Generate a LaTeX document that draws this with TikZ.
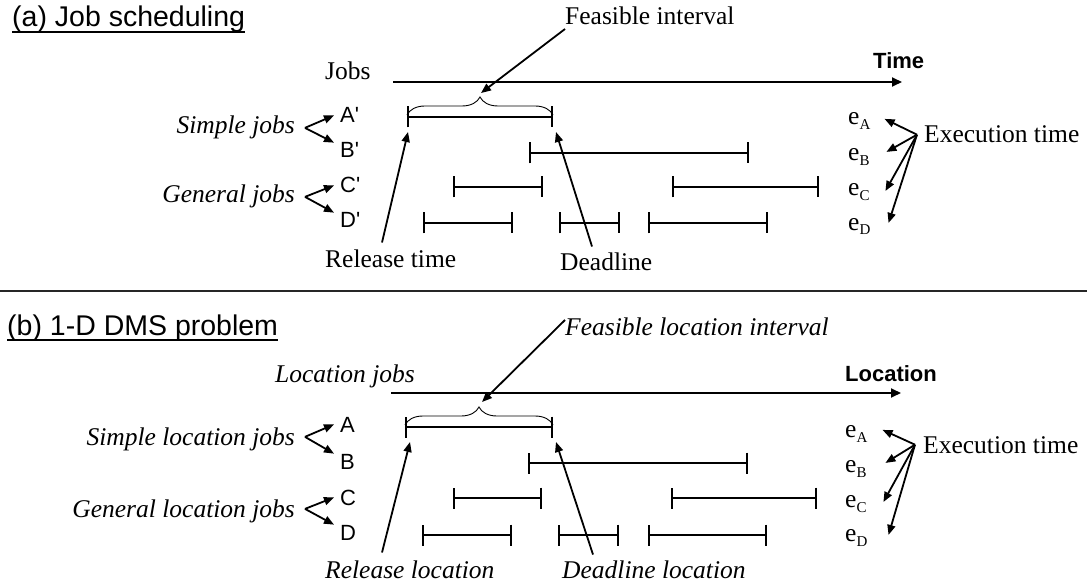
\documentclass[tikz,border=0pt]{standalone}
\usepackage{fontspec}
\setmainfont{Liberation Serif}
\setsansfont{Liberation Sans}
\newfontfamily\jobfont{Liberation Sans}[Ligatures=TeXOff]
\usetikzlibrary{arrows.meta,decorations.pathreplacing}

\tikzset{
  txt/.style={inner sep=0pt, font=\fontsize{25.5}{30}\selectfont},
  itxt/.style={inner sep=0pt, font=\fontsize{25.5}{30}\selectfont\itshape},
  ttl/.style={inner sep=0pt, font=\fontsize{28.5}{34}\selectfont\sffamily},
  axlab/.style={inner sep=0pt, font=\fontsize{22}{26}\selectfont\sffamily\bfseries},
  job/.style={inner sep=0pt, font=\fontsize{22}{26}\selectfont\jobfont},
  elab/.style={inner sep=0pt, font=\fontsize{25.5}{30}\selectfont},
  arr/.style={line width=1.8pt, -{Triangle[length=10pt,width=8pt]}},
  axisline/.style={line width=1.8pt, -{Triangle[length=10pt,width=9pt]}},
  interval/.style={line width=1.8pt, {Bar[width=21pt]}-{Bar[width=21pt]}},
  brc/.style={line width=0.9pt, decorate, decoration={brace, amplitude=18pt}},
  uline/.style={line width=2pt},
}
\newcommand{\esub}[2]{e\raisebox{-5pt}{\fontsize{15}{15}\selectfont #2}}

\begin{document}
\begin{tikzpicture}[x=1pt,y=-1pt]
\useasboundingbox (0,0) rectangle (1087,588);

% ---------------- (a) Job scheduling ----------------
\node[ttl, anchor=base west] (ta) at (12,27) {(a) Job scheduling};
\draw[uline] ([yshift=-5pt]ta.base west) -- ([yshift=-5pt]ta.base east);

\node[txt, anchor=base west] (fia) at (565,25) {Feasible interval};
\node[txt, anchor=base west] (jobsa) at (325,80) {Jobs};
\node[axlab, anchor=base west] (timea) at (873,69) {Time};
\coordinate (axa0) at (393,82);
\coordinate (axa1) at (902,82);
\draw[axisline] (axa0) -- (axa1);

\node[job, anchor=base west] (Apa) at (340,123) {A'};
\node[job, anchor=base west] (Bpa) at (340,158) {B'};
\node[job, anchor=base west] (Cpa) at (340,193) {C'};
\node[job, anchor=base west] (Dpa) at (340,228) {D'};

\node[itxt, anchor=base east] (sja) at (295,134) {Simple jobs};
\node[itxt, anchor=base east] (gja) at (295,203) {General jobs};
\draw[arr] ([xshift=10pt]sja.east) -- ([xshift=-6pt]Apa.west);
\draw[arr] ([xshift=10pt]sja.east) -- ([xshift=-6pt]Bpa.north west);
\draw[arr] ([xshift=10pt]gja.east) -- ([xshift=-6pt]Cpa.west);
\draw[arr] ([xshift=10pt]gja.east) -- ([xshift=-6pt]Dpa.north west);

% intervals
\coordinate (a1) at (407,117);
\coordinate (a2) at (553,117);
\draw[interval] (a1) -- (a2);
\draw[interval] (529,153) -- (749,153);
\draw[interval] (453,187) -- (543,187);
\draw[interval] (672,187) -- (819,187);
\draw[interval] (423,223) -- (513,223);
\draw[interval] (559,223) -- (620,223);
\draw[interval] (648,223) -- (768,223);

% brace over the feasible interval
\draw[brc] (407,115) -- (553,115);
\coordinate (abr) at (480,97);
\draw[arr] ([yshift=-4pt]fia.base west) -- ([xshift=1pt,yshift=4pt]abr);

\node[txt, anchor=base west] (rta) at (325,268) {Release time};
\node[txt, anchor=base west] (dla) at (560,270) {Deadline};
\draw[arr] ([xshift=57pt,yshift=7.6pt]rta.north west) -- ([xshift=1pt,yshift=-15pt]a1);
\draw[arr] ([xshift=32pt,yshift=5.6pt]dla.north west) -- ([xshift=3pt,yshift=-15pt]a2);

\node[elab, anchor=base west] (eAa) at (848,125) {\esub{e}{A}};
\node[elab, anchor=base west] (eBa) at (848,161) {\esub{e}{B}};
\node[elab, anchor=base west] (eCa) at (848,196) {\esub{e}{C}};
\node[elab, anchor=base west] (eDa) at (848,230) {\esub{e}{D}};
\node[txt, anchor=base west] (eta) at (924,143) {Execution time};
\draw[arr] ([xshift=-7pt]eta.west) -- ([xshift=14pt,yshift=2.6pt]eAa.east);
\draw[arr] ([xshift=-7pt]eta.west) -- ([xshift=16.7pt,yshift=5.6pt]eBa.east);
\draw[arr] ([xshift=-7pt]eta.west) -- ([xshift=15.7pt,yshift=1.6pt]eCa.east);
\draw[arr] ([xshift=-7pt]eta.west) -- ([xshift=18pt,yshift=3.6pt]eDa.east);

% ---------------- separator ----------------
\draw[line width=1.5pt, black!85] (0,291) -- (1087,291);

% ---------------- (b) 1-D DMS problem ----------------
\node[ttl, anchor=base west] (tb) at (7,335) {(b) 1-D DMS problem};
\draw[uline] ([yshift=-5pt]tb.base west) -- ([yshift=-5pt]tb.base east);

\node[itxt, anchor=base west] (fib) at (565,335) {Feasible location interval};
\node[itxt, anchor=base west] (jobsb) at (275,382) {Location jobs};
\node[axlab, anchor=base west] (locb) at (845,381) {Location};
\coordinate (axb0) at (391,393);
\coordinate (axb1) at (901,393);
\draw[axisline] (axb0) -- (axb1);

\node[job, anchor=base west] (Ab) at (340,432) {A};
\node[job, anchor=base west] (Bb) at (340,469) {B};
\node[job, anchor=base west] (Cb) at (340,505) {C};
\node[job, anchor=base west] (Db) at (340,540) {D};

\node[itxt, anchor=base east] (sjb) at (295,445) {Simple location jobs};
\node[itxt, anchor=base east] (gjb) at (295,517) {General location jobs};
\draw[arr] ([xshift=10pt,yshift=2pt]sjb.east) -- ([xshift=-6pt]Ab.west);
\draw[arr] ([xshift=10pt,yshift=2pt]sjb.east) -- ([xshift=-6pt]Bb.north west);
\draw[arr] ([xshift=10pt,yshift=2pt]gjb.east) -- ([xshift=-6pt]Cb.west);
\draw[arr] ([xshift=10pt,yshift=2pt]gjb.east) -- ([xshift=-6pt]Db.north west);

% intervals
\coordinate (b1) at (405,427);
\coordinate (b2) at (553,427);
\draw[interval] (b1) -- (b2);
\draw[interval] (528,463) -- (748,463);
\draw[interval] (453,498) -- (542,498);
\draw[interval] (671,498) -- (817,498);
\draw[interval] (422,535) -- (512,535);
\draw[interval] (558,535) -- (619,535);
\draw[interval] (648,535) -- (767,535);

% brace over the feasible location interval
\draw[brc] (405,425) -- (553,425);
\coordinate (bbr) at (478,407);
\draw[arr] ([yshift=15pt]fib.base west) -- ([xshift=4pt,yshift=5pt]bbr);

\node[itxt, anchor=base west] (rlb) at (325,578) {Release location};
\node[itxt, anchor=base west] (dlb) at (562,578) {Deadline location};
\draw[arr] ([xshift=57pt,yshift=7.6pt]rlb.north west) -- ([xshift=5pt,yshift=-15pt]b1);
\draw[arr] ([xshift=31pt,yshift=5.6pt]dlb.north west) -- ([xshift=3pt,yshift=-15pt]b2);

\node[elab, anchor=base west] (eAb) at (845,437) {\esub{e}{A}};
\node[elab, anchor=base west] (eBb) at (845,472) {\esub{e}{B}};
\node[elab, anchor=base west] (eCb) at (845,507) {\esub{e}{C}};
\node[elab, anchor=base west] (eDb) at (845,541) {\esub{e}{D}};
\node[txt, anchor=base west] (etb) at (923,453) {Execution time};
\draw[arr] ([xshift=-8pt]etb.west) -- ([xshift=15pt,yshift=3.6pt]eAb.east);
\draw[arr] ([xshift=-8pt]etb.west) -- ([xshift=18.7pt,yshift=5.6pt]eBb.east);
\draw[arr] ([xshift=-8pt]etb.west) -- ([xshift=16.7pt,yshift=1.6pt]eCb.east);
\draw[arr] ([xshift=-8pt]etb.west) -- ([xshift=21pt,yshift=2.6pt]eDb.east);
\end{tikzpicture}
\end{document}
